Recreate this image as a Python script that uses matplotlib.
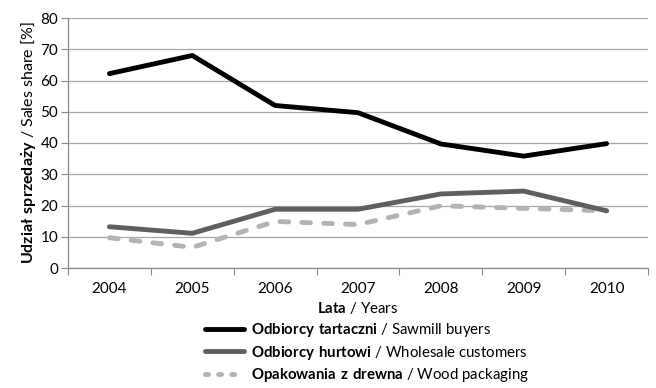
import matplotlib
matplotlib.use('Agg')
import matplotlib.pyplot as plt

plt.rcParams['font.family'] = ['Lato', 'DejaVu Sans']
plt.rcParams['mathtext.fontset'] = 'custom'
plt.rcParams['mathtext.rm'] = 'Lato'
plt.rcParams['mathtext.bf'] = 'Lato:bold'

years = ['2004', '2005', '2006', '2007', '2008', '2009', '2010']
sawmill = [62.2, 68.0, 52.0, 49.7, 39.7, 35.8, 39.8]
wholesale = [13.2, 11.1, 18.8, 18.8, 23.7, 24.6, 18.3]
packaging = [9.7, 6.6, 14.9, 13.9, 19.9, 19.1, 18.3]

labels = [r'$\bf{Odbiorcy\ tartaczni}$ / Sawmill buyers',
          r'$\bf{Odbiorcy\ hurtowi}$ / Wholesale customers',
          r'$\bf{Opakowania\ z\ drewna}$ / Wood packaging']

fig = plt.figure(figsize=(6.56, 3.88), dpi=100)
ax = fig.add_axes([68 / 656, 120 / 388, 580 / 656, 250 / 388])

lw = 3.5
x = range(len(years))
ax.plot(x, sawmill, color='black', lw=lw, solid_capstyle='round', label=labels[0], zorder=4)
ax.plot(x, wholesale, color='#5f5f5f', lw=lw, solid_capstyle='round', label=labels[1], zorder=3)
ax.plot(x, packaging, color='#b3b3b3', lw=lw, ls=(0, (1.8, 2.7)), dash_capstyle='round',
        label=labels[2], zorder=2)

ax.set_xlim(-0.5, len(years) - 0.5)
ax.set_ylim(0, 80)
ax.set_yticks(range(0, 81, 10))
ax.set_xticks(list(x))
ax.set_xticklabels(years)
ax.set_xticks([i - 0.5 for i in range(len(years) + 1)], minor=True)
ax.tick_params(axis='x', which='major', length=0, pad=10, labelsize=11)
ax.tick_params(axis='x', which='minor', length=5, color='#888888', width=0.8)
ax.tick_params(axis='y', length=5, color='#888888', width=0.8, labelsize=11, pad=2)
ax.grid(axis='y', color='#a6a6a6', lw=0.9)
ax.set_axisbelow(True)
for s in ['top', 'right']:
    ax.spines[s].set_visible(False)
for s in ['left', 'bottom']:
    ax.spines[s].set_color('#888888')
    ax.spines[s].set_linewidth(0.9)

ax.set_xlabel(r'$\bf{Lata}$ / Years', fontsize=10.8, labelpad=3)
ax.set_ylabel(r'$\bf{Udzia\l\ sprzeda\.{z}y}$ / Sales share [%]', fontsize=11.5, labelpad=1)

leg = ax.legend(loc='upper left', bbox_to_anchor=(205 / 656, 67 / 388), bbox_transform=fig.transFigure,
                frameon=False, fontsize=10.8, handlelength=2.6, handletextpad=0.45, labelspacing=0.3,
                borderaxespad=0, borderpad=0)
# dotted handle for the packaging entry
leg.get_lines()[2].set_dashes((0.6, 2.1))

fig.savefig('out.png', dpi=100)
